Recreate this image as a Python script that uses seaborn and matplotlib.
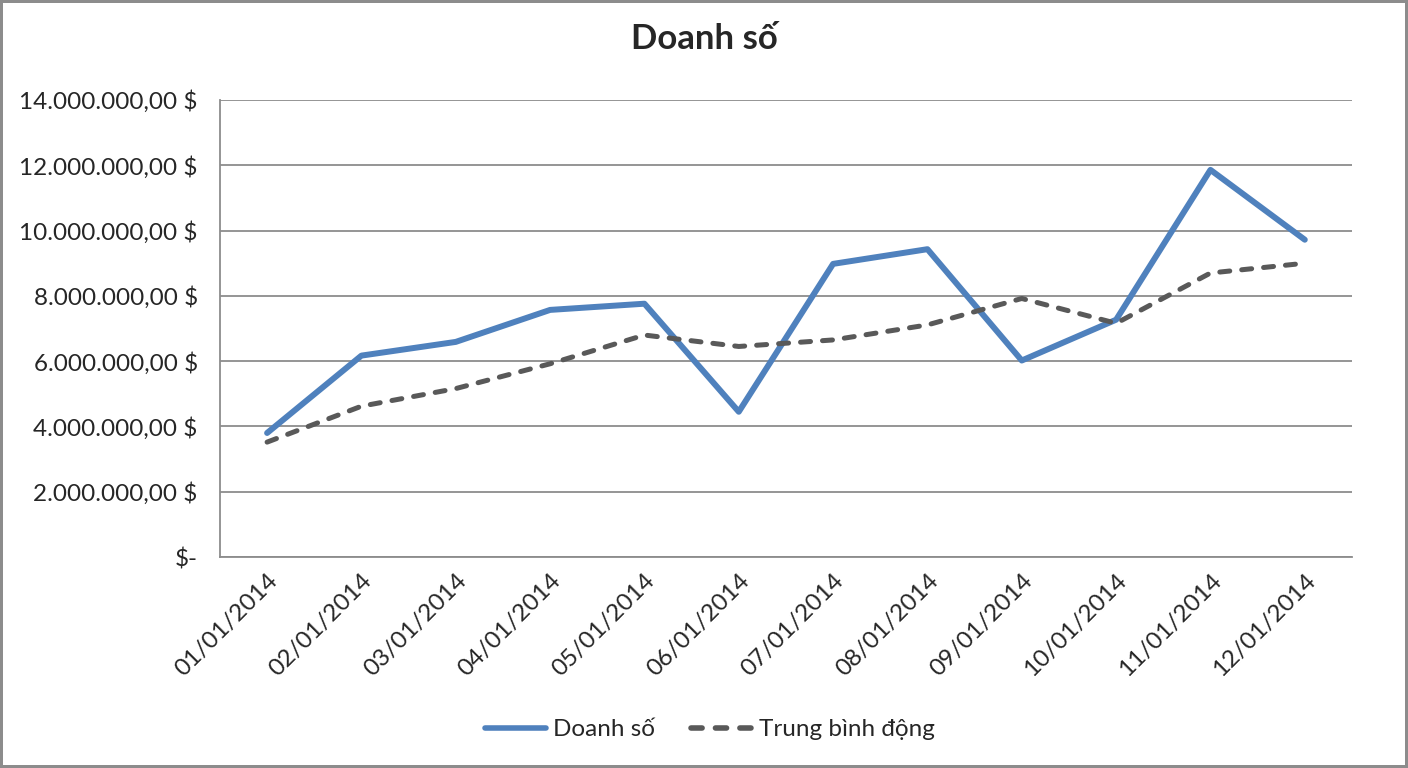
import numpy as np
import pandas as pd
import matplotlib
matplotlib.use("Agg")
import matplotlib.pyplot as plt
import seaborn as sns
from matplotlib.ticker import FuncFormatter, FixedLocator

# data
dates = ["01/01/2014", "02/01/2014", "03/01/2014", "04/01/2014", "05/01/2014", "06/01/2014",
         "07/01/2014", "08/01/2014", "09/01/2014", "10/01/2014", "11/01/2014", "12/01/2014"]
doanh_so = [3.80e6, 6.17e6, 6.59e6, 7.57e6, 7.76e6, 4.45e6,
            8.98e6, 9.43e6, 6.02e6, 7.27e6, 11.86e6, 9.72e6]
trung_binh = [3.52e6, 4.62e6, 5.16e6, 5.92e6, 6.80e6, 6.45e6,
              6.65e6, 7.11e6, 7.92e6, 7.16e6, 8.70e6, 9.00e6]
y_ticks = [0, 2e6, 4e6, 6e6, 8e6, 10e6, 12e6, 14e6]

sns.set_style("white")
plt.rcParams["font.family"] = ["Lato", "Open Sans", "DejaVu Sans"]

df = pd.DataFrame({"Ngày": dates, "Doanh số": doanh_so, "Trung bình động": trung_binh})

fig = plt.figure(figsize=(14.08, 7.68), dpi=100)
fig.patch.set_edgecolor("#8c8c8c")
fig.patch.set_linewidth(3)
ax = fig.add_axes([0.1562, 0.2747, 0.8040, 0.5951])

sns.lineplot(data=df, x="Ngày", y="Doanh số", ax=ax, color="#4f81bd",
             linewidth=4.3, label="Doanh số", sort=False)
sns.lineplot(data=df, x="Ngày", y="Trung bình động", ax=ax, color="#595959",
             linewidth=3.6, label="Trung bình động", sort=False)
ax.lines[1].set_dashes((2.0, 2.4))
ax.lines[1].set_dash_capstyle("round")

ax.set_xlim(-0.5, len(dates) - 0.5)
ax.set_ylim(0, 14e6)
ax.yaxis.set_major_locator(FixedLocator(y_ticks))


def fmt(v, pos):
    if v == 0:
        return "$-"
    s = f"{v:,.2f}".replace(",", "X").replace(".", ",").replace("X", ".")
    return s + " $"


ax.yaxis.set_major_formatter(FuncFormatter(fmt))
ax.grid(axis="y", color="#8c8c8c", linewidth=1.3)
ax.set_axisbelow(True)

ax.set_xticks(range(len(dates)))
ax.set_xticklabels(dates, rotation=45, ha="right", rotation_mode="anchor", fontsize=17.5)
ax.set_xticks(np.arange(-0.5, len(dates)), minor=True)
ax.tick_params(axis="x", which="major", length=0, pad=9)
ax.tick_params(axis="x", which="minor", length=9, width=1.3, color="#8c8c8c", direction="out")
ax.tick_params(axis="y", length=0, labelsize=17.5, pad=16)

for side in ["top", "right"]:
    ax.spines[side].set_visible(False)
for side in ["left", "bottom"]:
    ax.spines[side].set_color("#8c8c8c")
    ax.spines[side].set_linewidth(1.3)

ax.set_xlabel("")
ax.set_ylabel("")
fig.suptitle("Doanh số", fontsize=25, fontweight="bold", x=0.5, y=0.97)

leg = ax.legend(loc="center", bbox_to_anchor=(0.433, -0.378), ncol=2, frameon=False,
                fontsize=17.5, handlelength=2.5, handletextpad=0.3, columnspacing=1.5)
for line in leg.get_lines():
    line.set_linewidth(4.0)

fig.savefig("out.png", dpi=100)
